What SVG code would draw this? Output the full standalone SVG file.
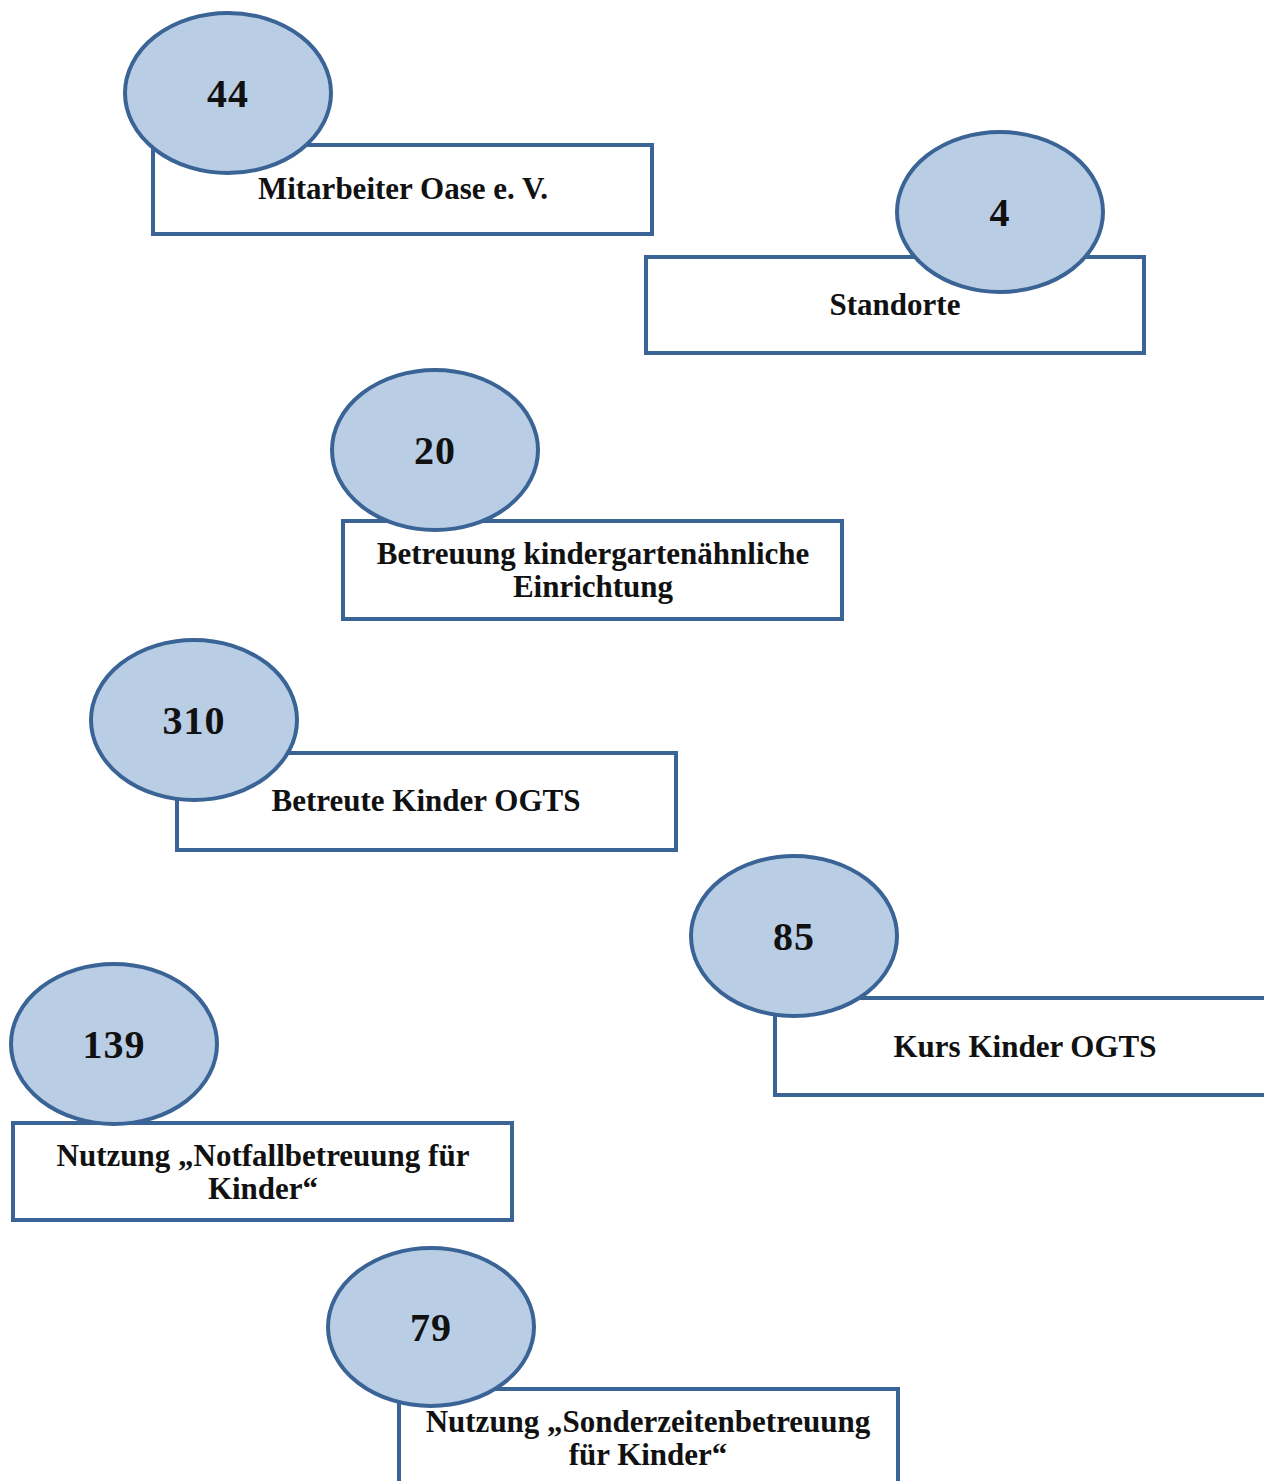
<svg xmlns="http://www.w3.org/2000/svg" width="1264" height="1481" viewBox="0 0 1264 1481">
<style>
.box{fill:#ffffff;stroke:#3B6496;stroke-width:4}
.oval{fill:#B9CDE5;stroke:#3B6496;stroke-width:4}
.num{font-family:"Liberation Serif","Times New Roman",serif;font-weight:bold;font-size:40px;letter-spacing:1px;fill:#111111;text-anchor:middle}
.lbl{font-family:"Liberation Serif","Times New Roman",serif;font-weight:bold;font-size:31px;fill:#111111;text-anchor:middle}
</style>
<rect x="0" y="0" width="1264" height="1481" fill="#ffffff"/>
<g id="connectors"></g>
<g id="node-44">
<rect class="box" x="153" y="145" width="499" height="89"/>
<ellipse class="oval" cx="228" cy="93" rx="103" ry="80"/>
<text class="num" x="228" y="107">44</text>
<text class="lbl" x="403" y="199">Mitarbeiter Oase e. V.</text>
</g>
<g id="node-4">
<rect class="box" x="646" y="257" width="498" height="96"/>
<ellipse class="oval" cx="1000" cy="212" rx="103" ry="80"/>
<text class="num" x="1000" y="226">4</text>
<text class="lbl" x="895" y="315">Standorte</text>
</g>
<g id="node-20">
<rect class="box" x="343" y="521" width="499" height="98"/>
<ellipse class="oval" cx="435" cy="450" rx="103" ry="80"/>
<text class="num" x="435" y="464">20</text>
<text class="lbl" x="593" y="564">Betreuung kindergartenähnliche</text>
<text class="lbl" x="593" y="597">Einrichtung</text>
</g>
<g id="node-310">
<rect class="box" x="177" y="753" width="499" height="97"/>
<ellipse class="oval" cx="194" cy="720" rx="103" ry="80"/>
<text class="num" x="194" y="734">310</text>
<text class="lbl" x="426" y="811">Betreute Kinder OGTS</text>
</g>
<g id="node-85">
<rect class="box" x="775" y="998" width="499" height="97"/>
<ellipse class="oval" cx="794" cy="936" rx="103" ry="80"/>
<text class="num" x="794" y="950">85</text>
<text class="lbl" x="1025" y="1057">Kurs Kinder OGTS</text>
</g>
<g id="node-139">
<rect class="box" x="13" y="1123" width="499" height="97"/>
<ellipse class="oval" cx="114" cy="1044" rx="103" ry="80"/>
<text class="num" x="114" y="1058">139</text>
<text class="lbl" x="263" y="1166">Nutzung „Notfallbetreuung für</text>
<text class="lbl" x="263" y="1199">Kinder“</text>
</g>
<g id="node-79">
<rect class="box" x="399" y="1389" width="499" height="120"/>
<ellipse class="oval" cx="431" cy="1327" rx="103" ry="79"/>
<text class="num" x="431" y="1341">79</text>
<text class="lbl" x="648" y="1432">Nutzung „Sonderzeitenbetreuung</text>
<text class="lbl" x="648" y="1465">für Kinder“</text>
</g>
</svg>
